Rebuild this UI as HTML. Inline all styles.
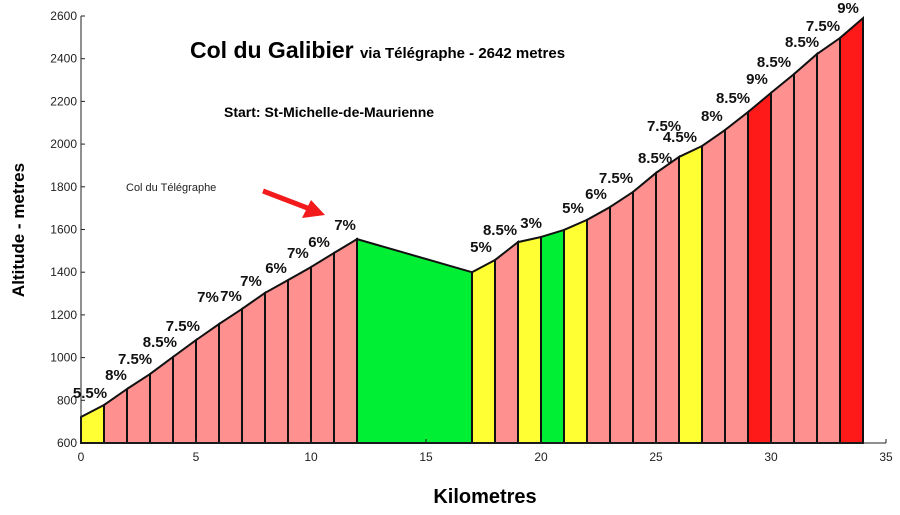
<!DOCTYPE html>
<html><head><meta charset="utf-8"><style>
body{margin:0;background:#fff}
svg{display:block;font-family:"Liberation Sans",sans-serif}
</style></head><body>
<svg id="chart" width="900" height="515" viewBox="0 0 900 515">
<text x="190" y="58" font-size="23" font-weight="bold">Col du Galibier <tspan font-size="15">via Télégraphe - 2642 metres</tspan></text>
<text x="224" y="117" font-size="14" font-weight="bold">Start: St-Michelle-de-Maurienne</text>
<text x="126" y="191" font-size="11" fill="#222">Col du Télégraphe</text>
<g>
<line x1="263" y1="191" x2="310" y2="209" stroke="#f21a1a" stroke-width="5"/>
<polygon points="325,215 302,218 311,200" fill="#f21a1a"/>
</g>
<text transform="translate(24,230) rotate(-90)" text-anchor="middle" font-size="17" font-weight="bold">Altitude - metres</text>
<text x="485" y="503" text-anchor="middle" font-size="20" font-weight="bold">Kilometres</text>
<g id="plot"></g>
</svg>
<script>
const kms=[0,1,2,3,4,5,6,7,8,9,10,11,12,17,18,19,20,21,22,23,24,25,26,27,28,29,30,31,32,33,34];
const alts=[722,778,853,923,1003,1082,1157,1228,1303,1363,1424,1490,1555,1400,1457,1541,1565,1598,1645,1705,1776,1865,1940,1991,2066,2150,2240,2328,2422,2497,2590];
const segColors=["y","p","p","p","p","p","p","p","p","p","p","p","g","y","p","y","g","y","p","p","p","p","y","p","p","r","p","p","p","r"];
const gradeLabels=["5.5%","8%","7.5%","8.5%","7.5%","7%","7%","7%","6%","7%","6%","7%","5%","8.5%","3%","5%","6%","7.5%","8.5%","7.5%","4.5%","8%","8.5%","9%","8.5%","8.5%","7.5%","9%"];
const labelKm=[0.39,1.52,2.35,3.43,4.43,5.52,6.52,7.39,8.48,9.43,10.35,11.48,17.39,18.22,19.57,21.39,22.39,23.26,24.96,25.35,26.04,27.43,28.35,29.39,30.13,31.35,32.26,33.35];
const labelAlt=[839,923,998,1077,1152,1289,1293,1363,1424,1495,1546,1626,1523,1602,1635,1705,1771,1846,1940,2089,2038,2136,2221,2310,2389,2483,2558,2642];
const xTicks=[0,5,10,15,20,25,30,35];
const yTicks=[600,800,1000,1200,1400,1600,1800,2000,2200,2400,2600];
const X=k=>81+k*23, Y=a=>443-(a-600)*0.2135;
const col={y:"#ffff33",p:"#ff9090",g:"#00ee33",r:"#ff1a1a"};
const NS="http://www.w3.org/2000/svg",g=document.getElementById("plot");
function mk(t,a,p){const e=document.createElementNS(NS,t);for(const k in a)e.setAttribute(k,a[k]);(p||g).appendChild(e);return e;}
for(let i=0;i<kms.length-1;i++){
 const e=mk("polygon",{points:`${X(kms[i])},${Y(600)} ${X(kms[i])},${Y(alts[i])} ${X(kms[i+1])},${Y(alts[i+1])} ${X(kms[i+1])},${Y(600)}`,fill:col[segColors[i]],stroke:"#111","stroke-width":2});
 
 
}
const ax=mk("path",{d:`M${X(0)},${Y(2600)}V${Y(600)}H${X(35)}`,fill:"none",stroke:"#222","stroke-width":1});


xTicks.forEach(t=>{
 mk("line",{x1:X(t),x2:X(t),y1:Y(600),y2:Y(600)-4,stroke:"#222"});
 const e=mk("text",{x:X(t),y:Y(600)+18,"text-anchor":"middle","font-size":12,fill:"#222"});
 e.textContent=t;
 
 
});
yTicks.forEach(t=>{
 mk("line",{x1:X(0),x2:X(0)+4,y1:Y(t),y2:Y(t),stroke:"#222"});
 const e=mk("text",{x:X(0)-4,y:Y(t)+4,"text-anchor":"end","font-size":12,fill:"#222"});
 e.textContent=t;
 
 
});
gradeLabels.forEach((l,i)=>{
 const e=mk("text",{x:X(labelKm[i]),y:Y(labelAlt[i])+6,"text-anchor":"middle","font-size":15,"font-weight":"bold",fill:"#111"});
 e.textContent=l;
 
 
});
</script>
</body></html>
